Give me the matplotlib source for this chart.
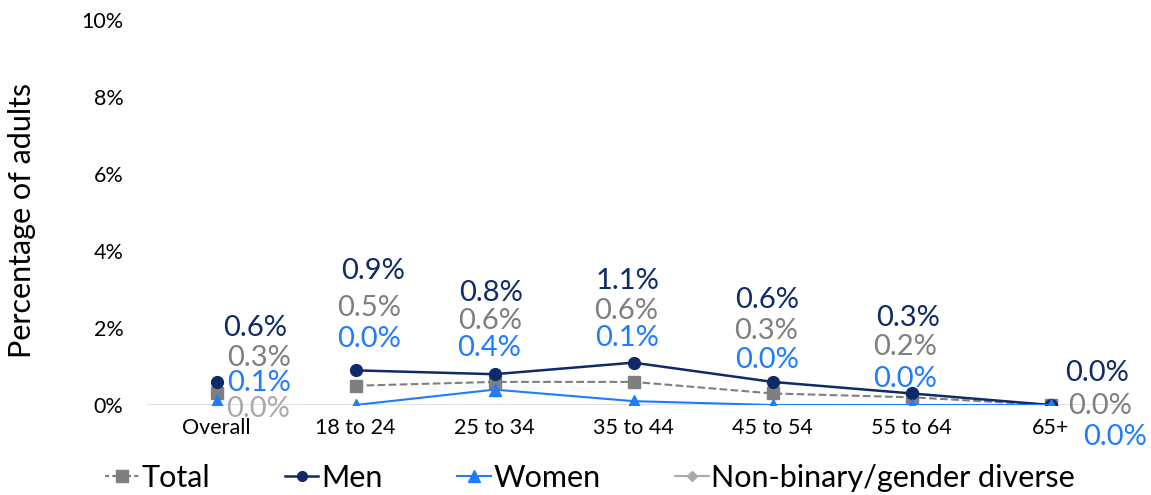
import matplotlib
matplotlib.use("Agg")
from matplotlib import pyplot as plt
import numpy as np

plt.rcParams['font.family'] = ['Lato', 'DejaVu Sans']

categories = ['Overall', '18 to 24', '25 to 34', '35 to 44', '45 to 54', '55 to 64', '65+']
total = [0.3, 0.5, 0.6, 0.6, 0.3, 0.2, 0.0]
men = [0.6, 0.9, 0.8, 1.1, 0.6, 0.3, 0.0]
women = [0.1, 0.0, 0.4, 0.1, 0.0, 0.0, 0.0]
nonbinary = [0.0]  # only reported for Overall

yticks = [0, 2, 4, 6, 8, 10]

# label offsets from each marker, in pixels (dx right, dy up)
men_off = [(39, 54), (18, 99), (-3, 81), (-6, 82), (-5, 82), (-3, 75), (47, 32)]
total_off = [(43, 35), (14, 78), (-4, 61), (-7, 71), (-6, 62), (-6, 50), (50, -1)]
women_off = [(43, 18), (14, 66), (-5, 42), (-6, 63), (-5, 45), (-6, 26), (65, -32)]
nb_off = [(42, -4)]

c_total = '#7f7f7f'
c_men = '#0e2a68'
c_women = '#1f7bff'
c_nb = '#a9a9a9'

fig = plt.figure(figsize=(11.51, 4.95), dpi=100)
ax = fig.add_axes([147 / 1151, 90 / 495, (1120 - 147) / 1151, 385 / 495])

x = np.arange(len(categories))

ax.axhline(0, color='#d9d9d9', lw=1.2, zorder=1)

# age groups are joined by a line, the overall point stands alone
ax.plot(x[1:], total[1:], color=c_total, ls='--', lw=1.5, marker='s', ms=8, zorder=3)
ax.plot(x[:1], total[:1], color=c_total, ls='none', marker='s', ms=8, zorder=3)
ax.plot(x[1:], men[1:], color=c_men, lw=1.8, marker='o', ms=8.5, zorder=4)
ax.plot(x[:1], men[:1], color=c_men, ls='none', marker='o', ms=8.5, zorder=4)
ax.plot(x[1:], women[1:], color=c_women, lw=1.5, marker='^', ms=8.5, zorder=5)
ax.plot(x[:1], women[:1], color=c_women, ls='none', marker='^', ms=8.5, zorder=5)
ax.plot(x[:1], nonbinary, color=c_nb, ls='none', marker='D', ms=5, zorder=2)


def add_labels(vals, offs, color):
    for i, (v, (dx, dy)) in enumerate(zip(vals, offs)):
        ax.annotate(f'{v:.1f}%', (x[i], v), xytext=(dx * 0.72, dy * 0.72),
                    textcoords='offset points', ha='center', va='center',
                    fontsize=21, color=color, zorder=6, annotation_clip=False)


add_labels(men, men_off, c_men)
add_labels(total, total_off, c_total)
add_labels(women, women_off, c_women)
add_labels(nonbinary, nb_off, c_nb)

ax.set_xlim(-0.5, len(categories) - 0.5)
ax.set_ylim(0, 10)
ax.set_yticks(yticks)
ax.set_yticklabels([f'{t}%' for t in yticks])
ax.set_xticks(x)
ax.set_xticklabels(categories)
ax.tick_params(axis='both', length=0, labelsize=15.5, colors='black')
ax.tick_params(axis='y', pad=17)
ax.tick_params(axis='x', pad=9)
for s in ax.spines.values():
    s.set_visible(False)

fig.text(22 / 1151, 1 - 220 / 495, 'Percentage of adults', rotation=90,
         ha='center', va='center', fontsize=22)

h_total, = ax.plot([], [], color=c_total, ls=(0, (2, 1.5)), lw=1.5, marker='s', ms=8)
h_men, = ax.plot([], [], color=c_men, lw=1.8, marker='o', ms=7)
h_women, = ax.plot([], [], color=c_women, lw=1.5, marker='^', ms=8)
h_nb, = ax.plot([], [], color=c_nb, lw=1.5, marker='D', ms=5)
fig.legend([h_total, h_men, h_women, h_nb],
           ['Total', 'Men', 'Women', 'Non-binary/gender diverse'],
           loc='center', bbox_to_anchor=(590 / 1151, 17 / 495), ncol=4,
           frameon=False, fontsize=22, handlelength=1.1, handletextpad=0.08,
           columnspacing=2.45, borderpad=0)

fig.savefig('out.png', dpi=100)
